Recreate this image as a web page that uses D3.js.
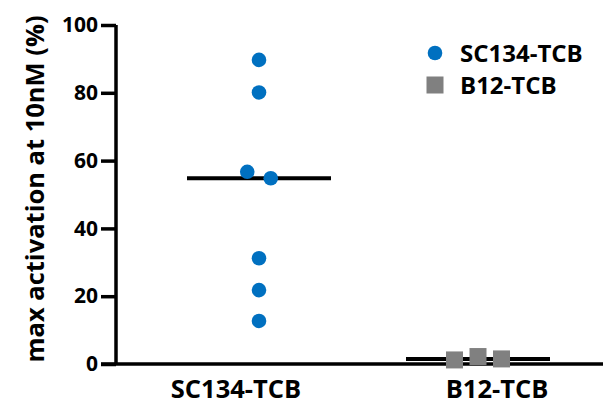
<!DOCTYPE html>
<html>
<head>
<meta charset="utf-8">
<script src="https://cdn.jsdelivr.net/npm/d3@7"></script>
<style>
  body { margin: 0; background: #fff; }
  text { font-family: "Open Sans", sans-serif; font-weight: 700; fill: #000; }
</style>
</head>
<body>
<svg id="chart" width="603" height="406"></svg>
<script>
// data
const categories = ["SC134-TCB", "B12-TCB"];
const sc134Values = [89.7, 80.1, 56.7, 54.8, 31.2, 21.8, 12.7];
const b12Values = [1.2, 2.2, 1.5];
const yTicks = [0, 20, 40, 60, 80, 100];
const yLabel = "max activation at 10nM (%)";

const series = [
  {name: "SC134-TCB", values: sc134Values, color: "#0070C0", shape: "circle"},
  {name: "B12-TCB", values: b12Values, color: "#808080", shape: "square"}
];

var svg = d3.select("#chart");

var y = d3.scaleLinear().domain([0, 100]).range([364, 25]);
var x = d3.scalePoint().domain(categories).range([259, 478]);

var r = 7.3, sq = 17, spread = 23.5, halfLine = 72, lw = 3.5;

// simple column scatter: points that overlap get pushed sideways
function swarm(values) {
  var pts = values.map(function(v, i) { return {v: v, i: i, py: y(v), dx: 0}; });
  var sorted = pts.slice().sort(function(a, b) { return a.py - b.py; });
  var groups = [], cur = [];
  sorted.forEach(function(p) {
    if (cur.length && p.py - cur[cur.length-1].py >= 2*r) { groups.push(cur); cur = []; }
    cur.push(p);
  });
  if (cur.length) groups.push(cur);
  groups.forEach(function(g) {
    g.sort(function(a, b) { return a.i - b.i; });
    g.forEach(function(p, i) { p.dx = (i - (g.length-1)/2) * spread; });
  });
  return pts;
}

// y axis
var yAxis = d3.axisLeft(y).tickValues(yTicks).tickSize(15).tickPadding(3);
var gY = svg.append("g")
  .attr("transform", "translate(116,0)")
  .call(yAxis);
gY.select(".domain").attr("d", "M0," + y(100) + "V" + y(0)).attr("stroke", "#000").attr("stroke-width", lw);
gY.selectAll(".tick line").attr("stroke", "#000").attr("stroke-width", lw);
gY.selectAll(".tick text").style("font-size", "21px").attr("font-family", null).attr("fill", "#000");

// x axis line
svg.append("line")
  .attr("x1", 101).attr("x2", 603)
  .attr("y1", y(0)).attr("y2", y(0))
  .attr("stroke", "#000").attr("stroke-width", lw);

// category labels
var labelShift = {"SC134-TCB": -23, "B12-TCB": 19};
svg.selectAll(".xlab")
  .data(categories)
  .enter().append("text")
  .attr("class", "xlab")
  .attr("x", function(d) { return x(d) + labelShift[d]; })
  .attr("y", 398)
  .attr("text-anchor", "middle")
  .style("font-size", "25.5px")
  .text(function(d) { return d; });

// y label
svg.append("text")
  .attr("transform", "translate(44,189) rotate(-90)")
  .attr("text-anchor", "middle")
  .style("font-size", "25.5px")
  .text(yLabel);

// points and medians
series.forEach(function(s) {
  var cx = x(s.name);
  var pts = swarm(s.values);
  var g = svg.append("g");
  var m = d3.median(s.values);

  g.append("line")
    .attr("x1", cx - halfLine).attr("x2", cx + halfLine)
    .attr("y1", y(m)).attr("y2", y(m))
    .attr("stroke", "#000").attr("stroke-width", 4);

  if (s.shape == "circle") {
    g.selectAll("circle").data(pts).enter().append("circle")
      .attr("cx", function(d) { return cx + d.dx; })
      .attr("cy", function(d) { return d.py; })
      .attr("r", r)
      .attr("fill", s.color);
  } else {
    g.selectAll("rect").data(pts).enter().append("rect")
      .attr("x", function(d) { return cx + d.dx - sq/2; })
      .attr("y", function(d) { return d.py - sq/2; })
      .attr("width", sq).attr("height", sq)
      .attr("fill", s.color);
  }
});

// legend
var legend = svg.append("g").attr("transform", "translate(435,53)");
series.forEach(function(s, i) {
  var row = legend.append("g").attr("transform", "translate(0," + (i*32) + ")");
  if (s.shape == "circle")
    row.append("circle").attr("r", r).attr("fill", s.color);
  else
    row.append("rect").attr("x", -sq/2).attr("y", -sq/2).attr("width", sq).attr("height", sq).attr("fill", s.color);
  row.append("text")
    .attr("x", 25).attr("y", 8.5)
    .style("font-size", "24px")
    .text(s.name);
});
</script>
</body>
</html>
